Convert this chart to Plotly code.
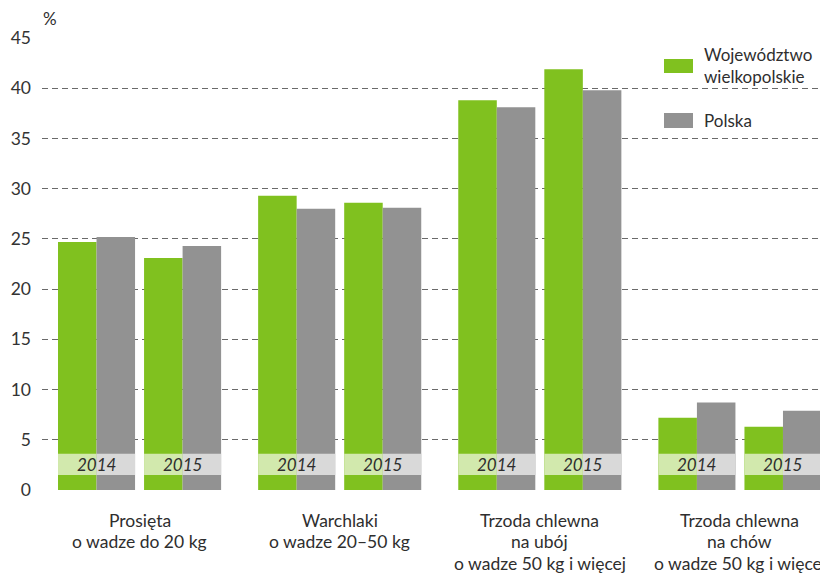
import plotly.graph_objects as go

# ---- data ----
groups = [
    ["Prosięta", "o wadze do 20 kg"],
    ["Warchlaki", "o wadze 20–50 kg"],
    ["Trzoda chlewna", "na ubój", "o wadze 50 kg i więcej"],
    ["Trzoda chlewna", "na chów", "o wadze 50 kg i więcej"],
]
years = ["2014", "2015"]
# values per (group, year)
wielkopolskie = [[24.7, 23.1], [29.3, 28.6], [38.8, 41.9], [7.2, 6.3]]
polska = [[25.2, 24.3], [28.0, 28.1], [38.1, 39.8], [8.7, 7.9]]
series_names = ["Województwo<br>wielkopolskie", "Polska"]
y_ticks = [0, 5, 10, 15, 20, 25, 30, 35, 40, 45]

# ---- styling ----
GREEN = "#80c11f"
GRAY = "#929292"
LGREEN = "#d2e9ad"
LGRAY = "#d9d9d9"
TXT = "#2e2e2e"
FONT = "Lato"
OFF = 8  # page body margin

year_off = [-0.215, 0.215]
bw = 0.1925

xs_sub, xg, xp, yg, yp = [], [], [], [], []
for gi in range(len(groups)):
    for yi in range(len(years)):
        c = gi + year_off[yi]
        xs_sub.append((c, years[yi]))
        xg.append(c - bw / 2)
        xp.append(c + bw / 2)
        yg.append(wielkopolskie[gi][yi])
        yp.append(polska[gi][yi])

fig = go.Figure()
fig.add_trace(go.Bar(x=xg, y=yg, width=bw, marker=dict(color=GREEN, line=dict(width=0)),
                     name="Województwo wielkopolskie", showlegend=False))
fig.add_trace(go.Bar(x=xp, y=yp, width=bw, marker=dict(color=GRAY, line=dict(width=0)),
                     name="Polska", showlegend=False))

shapes = []
annotations = []
for c, yr in xs_sub:
    shapes.append(dict(type="rect", xref="x", yref="y", x0=c - bw, x1=c, y0=1.5, y1=3.6,
                       fillcolor=LGREEN, line=dict(width=0), layer="above"))
    shapes.append(dict(type="rect", xref="x", yref="y", x0=c, x1=c + bw, y0=1.5, y1=3.6,
                       fillcolor=LGRAY, line=dict(width=0), layer="above"))
    annotations.append(dict(x=c, y=2.55, xref="x", yref="y", text="<i>%s</i>" % yr,
                            showarrow=False, font=dict(family=FONT, size=17, color=TXT)))

for gi, lines in enumerate(groups):
    for li, line in enumerate(lines):
        annotations.append(dict(x=gi, xref="x", y=0, yref="paper", yanchor="middle",
                                yshift=-(30 + 21.5 * li), text=line, showarrow=False,
                                font=dict(family=FONT, size=17.5, color=TXT)))

# legend (manual), coordinates in page pixels
PL, PT, PW, PH = 42, 38, 786, 452
leg_y = [(59, 73), (113, 128)]
leg_col = [GREEN, GRAY]
for (a, b), col, nm in zip(leg_y, leg_col, series_names):
    shapes.append(dict(type="rect", xref="paper", yref="paper",
                       x0=(664 - PL) / PW, x1=(693 - PL) / PW,
                       y0=(PT + PH - b) / PH, y1=(PT + PH - a) / PH,
                       fillcolor=col, line=dict(width=0)))
    annotations.append(dict(xref="paper", yref="paper", x=(702 - PL) / PW,
                            y=(PT + PH - (a + b) / 2) / PH, xanchor="left", yanchor="middle",
                            text=nm, align="left", showarrow=False,
                            font=dict(family=FONT, size=17, color=TXT)))

annotations.append(dict(xref="paper", yref="paper", x=0, y=1, xshift=-1,
                        yshift=20, xanchor="left", yanchor="middle", text="%",
                        showarrow=False, font=dict(family=FONT, size=17, color=TXT)))

fig.update_layout(
    width=828 - OFF, height=573 - OFF,
    margin=dict(l=PL - OFF, r=0, t=PT - OFF, b=573 - PT - PH),
    paper_bgcolor="white", plot_bgcolor="white",
    barmode="overlay",
    shapes=shapes, annotations=annotations,
    font=dict(family=FONT, color=TXT),
    xaxis=dict(range=[-0.4875, 3.44], showticklabels=False, showgrid=False,
               zeroline=False, showline=False, ticks=""),
    yaxis=dict(range=[0, 45], tickvals=y_ticks, showgrid=True, gridcolor="#6a6a6a",
               griddash="6px,4px", gridwidth=1.4, zeroline=False, showline=False,
               ticks="", ticklabelstandoff=10,
               tickfont=dict(family=FONT, size=17.5, color="#333333")),
)

fig.write_html("out.html")
